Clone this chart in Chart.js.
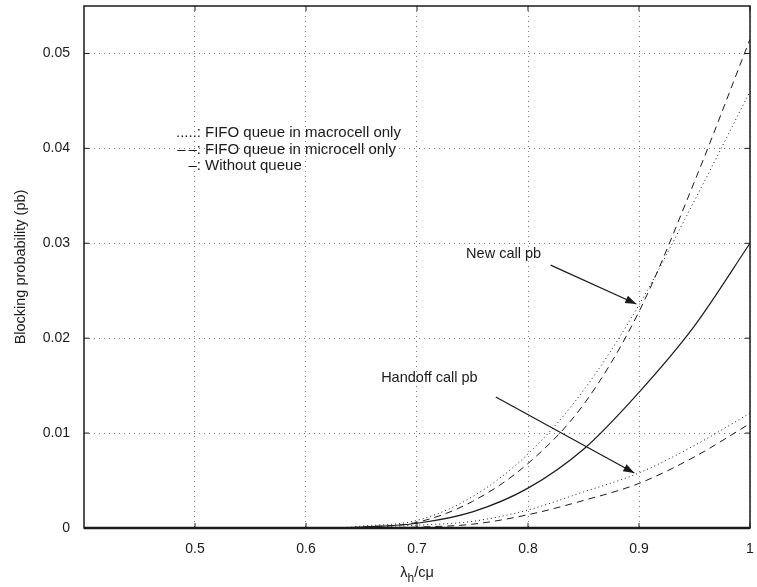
<!DOCTYPE html>
<html lang="en">
<head>
    <meta charset="UTF-8">
    <title>Blocking probability</title>
    <style>
        body {
            margin: 0;
            background: #ffffff;
        }
        #wrap {
            width: 757px;
            height: 587px;
        }
    </style>
</head>
<body>
<div id="wrap"><canvas id="chart" width="757" height="587"></canvas></div>

<script src="https://cdn.jsdelivr.net/npm/chart.js"></script>
<script>
    // ticks
    const xTicks = [0.5, 0.6, 0.7, 0.8, 0.9, 1];
    const yTicks = [0, 0.01, 0.02, 0.03, 0.04, 0.05];

    // lambda_h / c mu
    const loads = [0.63, 0.65, 0.7, 0.75, 0.8, 0.85, 0.9, 0.95, 1];

    // new call pb
    const newMacroQueue = [0, 0.0002, 0.0008, 0.0033, 0.0078, 0.0145, 0.0235, 0.0345, 0.046];
    const newMicroQueue = [0, 0.0001, 0.0006, 0.0028, 0.0068, 0.013, 0.0228, 0.0365, 0.0515];
    // without queue
    const noQueue = [0, 0.0001, 0.0005, 0.0017, 0.0042, 0.0083, 0.0143, 0.0213, 0.030];
    // handoff call pb
    const handMacroQueue = [0, 0.00005, 0.0003, 0.0007, 0.0019, 0.0038, 0.0058, 0.0087, 0.0121];
    const handMicroQueue = [0, 0.00003, 0.0001, 0.0004, 0.0014, 0.0029, 0.0047, 0.0075, 0.011];

    const legendLines = [
        { mark: '.....:', text: 'FIFO queue in macrocell only', y: 0.0416 },
        { mark: '\u2013\u2009\u2013:', text: 'FIFO queue in microcell only', y: 0.0398 },
        { mark: '\u2013:', text: 'Without queue', y: 0.0382 }
    ];

    const FONT = '"Liberation Sans", Arial, Helvetica, sans-serif';
    const INK = '#1a1a1a';

    function pts(ys) {
        return loads.map((x, i) => ({ x: x, y: ys[i] }));
    }

    function curve(ys, dash, width) {
        return {
            data: pts(ys),
            borderColor: INK,
            borderWidth: width || 1,
            borderDash: dash,
            pointRadius: 0,
            fill: false,
            cubicInterpolationMode: 'monotone'
        };
    }

    const fmt = v => String(+v.toFixed(2));

    function arrow(ctx, x1, y1, x2, y2) {
        ctx.beginPath();
        ctx.moveTo(x1, y1);
        ctx.lineTo(x2, y2);
        ctx.stroke();
        const a = Math.atan2(y2 - y1, x2 - x1);
        const len = 11, half = 4;
        ctx.beginPath();
        ctx.moveTo(x2, y2);
        ctx.lineTo(x2 - len * Math.cos(a) + half * Math.sin(a), y2 - len * Math.sin(a) - half * Math.cos(a));
        ctx.lineTo(x2 - len * Math.cos(a) - half * Math.sin(a), y2 - len * Math.sin(a) + half * Math.cos(a));
        ctx.closePath();
        ctx.fill();
    }

    // no extra padding for edge labels, the frame fills the canvas
    function noPad(s) {
        s.paddingTop = 0;
        s.paddingBottom = 0;
        s.paddingLeft = 0;
        s.paddingRight = 0;
    }

    // frame, inner tick marks, labels, arrows, legend text
    const decorations = {
        id: 'decorations',
        afterDatasetsDraw(chart) {
            const ctx = chart.ctx;
            const a = chart.chartArea;
            const xs = chart.scales.x, ys = chart.scales.y;
            ctx.save();
            ctx.strokeStyle = INK;
            ctx.fillStyle = INK;

            // tick marks pointing in
            ctx.lineWidth = 1;
            xTicks.forEach(v => {
                const px = xs.getPixelForValue(v);
                ctx.beginPath();
                ctx.moveTo(px, a.bottom); ctx.lineTo(px, a.bottom - 5);
                ctx.moveTo(px, a.top); ctx.lineTo(px, a.top + 5);
                ctx.stroke();
            });
            yTicks.forEach(v => {
                const py = ys.getPixelForValue(v);
                ctx.beginPath();
                ctx.moveTo(a.left, py); ctx.lineTo(a.left + 5, py);
                ctx.moveTo(a.right, py); ctx.lineTo(a.right - 5, py);
                ctx.stroke();
            });

            // frame
            ctx.lineWidth = 1.5;
            ctx.strokeRect(a.left, a.top, a.right - a.left, a.bottom - a.top);
            ctx.lineWidth = 2.5;
            ctx.beginPath();
            ctx.moveTo(a.left, a.bottom); ctx.lineTo(a.right, a.bottom);
            ctx.stroke();

            // annotations
            ctx.font = '14.5px ' + FONT;
            ctx.textBaseline = 'middle';
            ctx.textAlign = 'center';
            ctx.fillText('New call pb', xs.getPixelForValue(0.778), ys.getPixelForValue(0.0289));
            ctx.textAlign = 'left';
            ctx.fillText('Handoff call pb', xs.getPixelForValue(0.6677), ys.getPixelForValue(0.0158));

            ctx.lineWidth = 1.2;
            arrow(ctx, xs.getPixelForValue(0.8204), ys.getPixelForValue(0.0277),
                       xs.getPixelForValue(0.8976), ys.getPixelForValue(0.0236));
            arrow(ctx, xs.getPixelForValue(0.771), ys.getPixelForValue(0.0138),
                       xs.getPixelForValue(0.8958), ys.getPixelForValue(0.0058));

            // legend written as text
            ctx.font = '15px ' + FONT;
            legendLines.forEach(l => {
                const py = ys.getPixelForValue(l.y);
                ctx.textAlign = 'right';
                ctx.fillText(l.mark, xs.getPixelForValue(0.5054), py);
                ctx.textAlign = 'left';
                ctx.fillText(l.text, xs.getPixelForValue(0.509), py);
            });

            // x axis title with subscript
            ctx.font = '14.5px ' + FONT;
            ctx.textAlign = 'left';
            const cx = (a.left + a.right) / 2;
            const ty = 573;
            const wL = ctx.measureText('\u03bb').width;
            ctx.font = '12px ' + FONT;
            const wH = ctx.measureText('h').width;
            ctx.font = '14.5px ' + FONT;
            const wR = ctx.measureText('/c\u03bc').width;
            const x0 = cx - (wL + wH + wR) / 2;
            ctx.fillText('\u03bb', x0, ty);
            ctx.font = '12px ' + FONT;
            ctx.fillText('h', x0 + wL, ty + 6);
            ctx.font = '14.5px ' + FONT;
            ctx.fillText('/c\u03bc', x0 + wL + wH, ty);

            ctx.restore();
        }
    };

    const ctx = document.getElementById('chart').getContext('2d');
    new Chart(ctx, {
        type: 'line',
        data: {
            datasets: [
                curve(newMacroQueue, [1, 3]),
                curve(newMicroQueue, [7, 5]),
                curve(noQueue, [], 1.2),
                curve(handMacroQueue, [1, 3]),
                curve(handMicroQueue, [7, 5])
            ]
        },
        options: {
            responsive: false,
            animation: false,
            layout: { padding: { top: 6, right: 7, left: 0, bottom: 0 } },
            plugins: {
                legend: { display: false },
                tooltip: { enabled: false }
            },
            scales: {
                x: {
                    type: 'linear',
                    min: 0.4,
                    max: 1,
                    afterBuildTicks: s => { s.ticks = xTicks.map(v => ({ value: v })); },
                    afterFit: s => { s.height = 59; noPad(s); },
                    border: { display: false, dash: [1, 4] },
                    grid: {
                        color: '#7a7a7a',
                        lineWidth: 1,
                        drawTicks: false
                    },
                    ticks: {
                        color: INK,
                        padding: 13,
                        maxRotation: 0,
                        font: { family: FONT, size: 14 },
                        callback: v => fmt(v)
                    }
                },
                y: {
                    min: 0,
                    max: 0.055,
                    afterBuildTicks: s => { s.ticks = yTicks.map(v => ({ value: v })); },
                    afterFit: s => { s.width = 84; noPad(s); },
                    border: { display: false, dash: [1, 4] },
                    grid: {
                        color: '#7a7a7a',
                        lineWidth: 1,
                        drawTicks: false
                    },
                    ticks: {
                        color: INK,
                        padding: 14,
                        font: { family: FONT, size: 14 },
                        callback: v => fmt(v)
                    },
                    title: {
                        display: true,
                        text: 'Blocking probability (pb)',
                        color: INK,
                        padding: { top: 12, bottom: 4 },
                        font: { family: FONT, size: 14.5 }
                    }
                }
            }
        },
        plugins: [decorations]
    });
</script>
</body>
</html>
